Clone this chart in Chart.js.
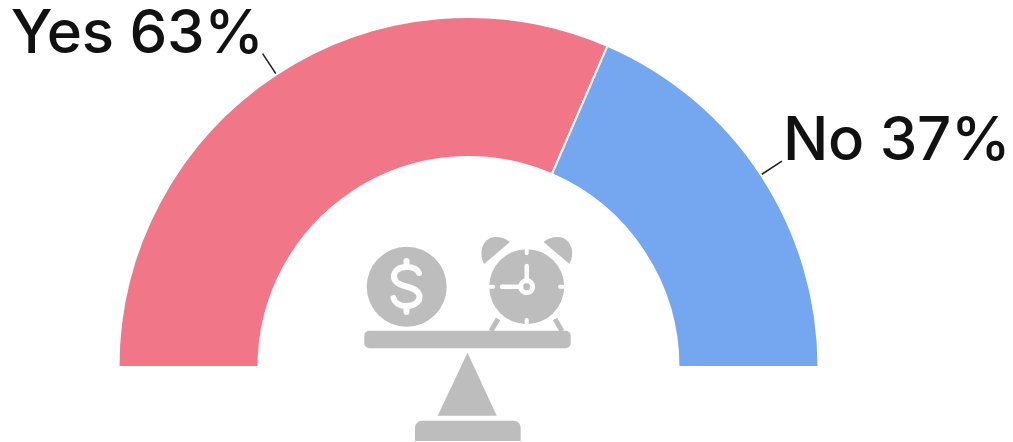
<!DOCTYPE html>
<html><head><meta charset="utf-8">
<style>html,body{margin:0;padding:0;background:#fff}canvas{display:block}</style>
<script src="https://cdn.jsdelivr.net/npm/chart.js@4/dist/chart.umd.min.js"></script>
</head><body><canvas id="c" width="1013" height="442"></canvas>
<script>
const categories = ["Yes", "No"];
const seriesValues = [63, 37];
const sliceColors = ["#f17788", "#75a7f0"];

const labelPlugin = {
  id: "labels",
  afterDatasetsDraw(chart) {
    const ctx = chart.ctx;
    chart.getDatasetMeta(0).data.forEach((arc, i) => {
      const mid = (arc.startAngle + arc.endAngle) / 2;
      const r0 = arc.outerRadius + 1, r1 = arc.outerRadius + 25;
      const x0 = arc.x + Math.cos(mid) * r0, y0 = arc.y + Math.sin(mid) * r0;
      const x1 = arc.x + Math.cos(mid) * r1, y1 = arc.y + Math.sin(mid) * r1;
      ctx.save();
      ctx.strokeStyle = "#222"; ctx.lineWidth = 1.6;
      ctx.beginPath(); ctx.moveTo(x0, y0); ctx.lineTo(x1, y1); ctx.stroke();
      ctx.fillStyle = "#111";
      ctx.font = "500 60px Inter, sans-serif";
      ctx.letterSpacing = "-0.3px";
      ctx.textBaseline = "alphabetic";
      const left = Math.cos(mid) < 0;
      ctx.textAlign = left ? "right" : "left";
      ctx.fillText(categories[i] + " " + seriesValues[i] + "%", x1 + (left ? 1 : 1), y1 - 1);
      ctx.restore();
    });
  }
};

const iconPlugin = {
  id: "icon",
  afterDraw(chart) {
    const ctx = chart.ctx, g = "#bdbdbd";
    ctx.save();
    ctx.fillStyle = g;
    // coin
    ctx.beginPath(); ctx.arc(406.7, 286.7, 40, 0, 7); ctx.fill();
    ctx.strokeStyle = "#fff"; ctx.lineWidth = 6; ctx.lineCap = "round"; ctx.lineJoin = "round";
    ctx.stroke(new Path2D("M419 273 C417 268 412 267 406.5 267 C399 267 394 271 394 276.5 C394 282 400 285 406.5 286.5 C413 288 419.5 291 419.5 297 C419.5 302 414 306 406.5 306 C400 306 395 303 393.5 298 M406.5 261 V267 M406.5 306 V312"));
    // clock
    ctx.beginPath(); ctx.arc(526.7, 286.7, 37.5, 0, 7); ctx.fill();
    ctx.lineWidth = 4;
    ctx.stroke(new Path2D("M526.7 250 V253 M526.7 320 V323 M490 286.7 H493 M560 286.7 H563"));
    ctx.lineWidth = 4.5;
    ctx.stroke(new Path2D("M526.7 266 V286.7 H502"));
    ctx.fillStyle = "#fff"; ctx.beginPath(); ctx.arc(526.7, 286.7, 8.5, 0, 7); ctx.fill();
    ctx.fillStyle = g; ctx.beginPath(); ctx.arc(526.7, 286.7, 3.5, 0, 7); ctx.fill();
    // bells
    ctx.fill(new Path2D("M484 264 C479 254 481 243 490 238 C496 236 504 237 510 242 Z"));
    ctx.fill(new Path2D("M569.5 264 C574.5 254 572.5 243 563.5 238 C557.5 236 549.5 237 543.5 242 Z"));
    // feet
    ctx.strokeStyle = g; ctx.lineWidth = 5; ctx.lineCap = "butt";
    ctx.stroke(new Path2D("M491 331 L498 319 M562 331 L555 319"));
    // beam
    ctx.beginPath(); ctx.roundRect(364.3, 330.7, 206.4, 17.6, 5); ctx.fill();
    // fulcrum
    ctx.fill(new Path2D("M467.5 352.7 L496.7 415.7 H437.7 Z"));
    // base
    ctx.beginPath(); ctx.roundRect(415, 420.7, 105.7, 20.3, [7, 7, 0, 0]); ctx.fill();
    ctx.restore();
  }
};

new Chart(document.getElementById("c"), {
  type: "doughnut",
  data: { labels: categories, datasets: [{ data: seriesValues, backgroundColor: sliceColors, borderColor: "#fff", borderWidth: 2 }] },
  options: {
    responsive: false, animation: false, rotation: -90, circumference: 180, cutout: "60%",
    layout: { padding: { left: 117, right: 193, top: 16, bottom: 74 } },
    plugins: { legend: { display: false }, tooltip: { enabled: false } }
  },
  plugins: [labelPlugin, iconPlugin]
});
</script></body></html>
